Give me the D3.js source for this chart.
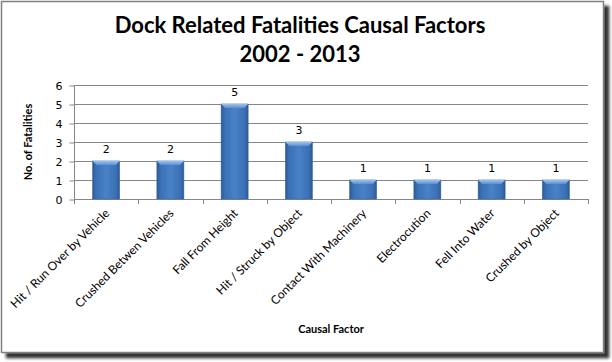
<!doctype html>
<head>
  <meta charset="utf-8">
  <script src="https://cdnjs.cloudflare.com/ajax/libs/d3/7.8.2/d3.min.js"></script>
</head>
<style>
    body { margin: 0; background: #fff; }
    svg { display: block; }
</style>
<body>
    <div id="chart"></div>
    <script>
        // Datos
        const categories = [
            "Hit / Run Over by Vehicle",
            "Crushed Betwen Vehicles",
            "Fall From Height",
            "Hit / Struck by Object",
            "Contact With Machinery",
            "Electrocution",
            "Fell Into Water",
            "Crushed by Object",
        ];
        const fatalities = [2, 2, 5, 3, 1, 1, 1, 1];
        const yTicks = [0, 1, 2, 3, 4, 5, 6];
        const titleLines = ["Dock Related Fatalities Causal Factors", "2002 - 2013"];

        const width = 612, height = 362;
        const plot = { left: 74, right: 588, top: 85, bottom: 199 };
        const labelFont = "Lato, 'Open Sans', sans-serif";
        const numFont = "'DejaVu Sans', Verdana, sans-serif";

        const data = categories.map((c, i) => ({ name: c, value: fatalities[i] }));

        const svg = d3.select('#chart')
            .append('svg')
            .attr('width', width)
            .attr('height', height);

        const defs = svg.append('defs');

        // Sombra del marco
        const shadow = defs.append('filter')
            .attr('id', 'shadow')
            .attr('x', '-5%').attr('y', '-5%')
            .attr('width', '115%').attr('height', '115%');
        shadow.append('feDropShadow')
            .attr('dx', 5).attr('dy', 5)
            .attr('stdDeviation', 1.8)
            .attr('flood-color', '#000')
            .attr('flood-opacity', 0.8);

        // Degradado de las barras
        const barGrad = defs.append('linearGradient')
            .attr('id', 'barGrad')
            .attr('x1', '0%').attr('x2', '100%')
            .attr('y1', '0%').attr('y2', '0%');
        [[0, '#2c5893'], [0.12, '#3a6fb3'], [0.5, '#4a82c8'], [0.88, '#3a6fb3'], [1, '#2c5893']]
            .forEach(([o, c]) => barGrad.append('stop').attr('offset', o).attr('stop-color', c));

        const bevelGrad = defs.append('linearGradient')
            .attr('id', 'bevelGrad')
            .attr('x1', '0%').attr('x2', '0%')
            .attr('y1', '0%').attr('y2', '100%');
        [[0, '#9cc2ee'], [1, '#5b8fd2']]
            .forEach(([o, c]) => bevelGrad.append('stop').attr('offset', o).attr('stop-color', c));

        // Marco
        svg.append('rect')
            .attr('x', 1.5).attr('y', 1.5)
            .attr('width', 602).attr('height', 351)
            .attr('fill', '#fff')
            .attr('stroke', '#7f7f7f')
            .attr('stroke-width', 1.5)
            .attr('filter', 'url(#shadow)');

        // Escalas
        const x = d3.scaleBand()
            .domain(categories)
            .range([plot.left, plot.right])
            .paddingInner(0.58)
            .paddingOuter(0.29);

        const y = d3.scaleLinear()
            .domain([0, 6])
            .range([plot.bottom, plot.top]);

        const step = x.step();

        // Rejilla horizontal
        svg.append('g')
            .selectAll('line')
            .data(yTicks.filter(t => t > 0))
            .enter()
            .append('line')
            .attr('x1', plot.left).attr('x2', plot.right)
            .attr('y1', d => y(d) + 0.5).attr('y2', d => y(d) + 0.5)
            .attr('stroke', '#868686')
            .attr('stroke-width', 1);

        // Eje Y
        const yAxis = d3.axisLeft(y)
            .tickValues(yTicks)
            .tickSize(5)
            .tickPadding(7)
            .tickFormat(d3.format('d'));
        const gy = svg.append('g')
            .attr('transform', `translate(${plot.left + 0.5},0.5)`)
            .call(yAxis);
        gy.select('.domain').attr('stroke', '#868686').attr('d', `M0,${plot.top}V${plot.bottom}`);
        gy.selectAll('.tick line').attr('stroke', '#868686');
        gy.selectAll('.tick text')
            .attr('font-family', numFont)
            .attr('font-size', 11)
            .attr('fill', '#000');

        // Eje X
        svg.append('line')
            .attr('x1', plot.left).attr('x2', plot.right)
            .attr('y1', plot.bottom + 0.5).attr('y2', plot.bottom + 0.5)
            .attr('stroke', '#868686');
        svg.append('g')
            .selectAll('line')
            .data(d3.range(categories.length + 1))
            .enter()
            .append('line')
            .attr('x1', i => Math.round(plot.left + i * step) + 0.5)
            .attr('x2', i => Math.round(plot.left + i * step) + 0.5)
            .attr('y1', plot.bottom)
            .attr('y2', plot.bottom + 5)
            .attr('stroke', '#868686');

        // Barras
        const bars = svg.append('g')
            .selectAll('g')
            .data(data)
            .enter()
            .append('g');

        bars.append('rect')
            .attr('x', d => x(d.name))
            .attr('y', d => y(d.value))
            .attr('width', x.bandwidth())
            .attr('height', d => y(0) - y(d.value))
            .attr('fill', 'url(#barGrad)')
            .attr('stroke', '#3a66a0')
            .attr('stroke-width', 0.6);

        const bevel = 4;
        bars.append('path')
            .attr('d', d => {
                const x0 = x(d.name), x1 = x0 + x.bandwidth(), y0 = y(d.value);
                return `M${x0},${y0}H${x1}L${x1 - bevel},${y0 + bevel}H${x0 + bevel}Z`;
            })
            .attr('fill', 'url(#bevelGrad)');

        // Etiquetas de valores
        bars.append('text')
            .attr('x', d => x(d.name) + x.bandwidth() / 2)
            .attr('y', d => y(d.value) - 8)
            .attr('text-anchor', 'middle')
            .attr('font-family', numFont)
            .attr('font-size', 11)
            .attr('fill', '#000')
            .text(d => d.value);

        // Etiquetas de categorías
        svg.append('g')
            .selectAll('text')
            .data(categories)
            .enter()
            .append('text')
            .attr('transform', d => `translate(${x(d) + x.bandwidth() / 2 + 4},${plot.bottom + 15}) rotate(-45)`)
            .attr('text-anchor', 'end')
            .attr('font-family', labelFont)
            .attr('font-size', 12)
            .attr('fill', '#000')
            .text(d => d);

        // Título
        svg.append('g')
            .selectAll('text')
            .data(titleLines)
            .enter()
            .append('text')
            .attr('x', 300)
            .attr('y', (d, i) => 33 + i * 29)
            .attr('text-anchor', 'middle')
            .attr('font-family', labelFont)
            .attr('font-weight', 'bold')
            .attr('font-size', 22)
            .attr('fill', '#000')
            .text(d => d);

        // Títulos de ejes
        svg.append('text')
            .attr('transform', `translate(32,${(plot.top + plot.bottom) / 2}) rotate(-90)`)
            .attr('text-anchor', 'middle')
            .attr('font-family', labelFont)
            .attr('font-weight', 'bold')
            .attr('font-size', 11)
            .text('No. of Fatalities');

        svg.append('text')
            .attr('x', (plot.left + plot.right) / 2)
            .attr('y', 333)
            .attr('text-anchor', 'middle')
            .attr('font-family', labelFont)
            .attr('font-weight', 'bold')
            .attr('font-size', 11)
            .text('Causal  Factor');
    </script>
</body>
